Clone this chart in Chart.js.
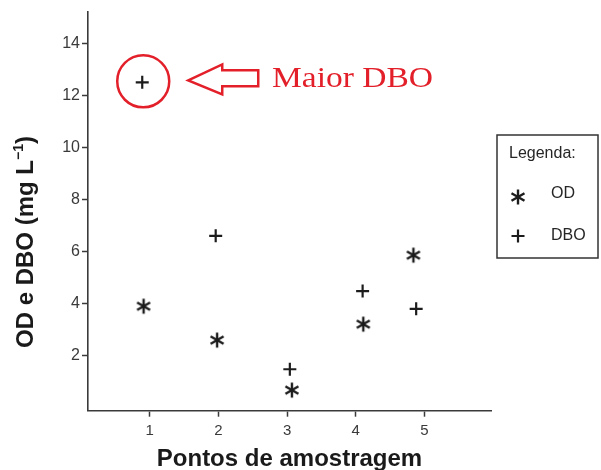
<!DOCTYPE html>
<html>
<head>
<meta charset="utf-8">
<script src="https://cdn.jsdelivr.net/npm/chart.js@4.4.1/dist/chart.umd.min.js"></script>
<style>
  html, body { margin: 0; padding: 0; background: #fff; }
</style>
</head>
<body>
<canvas id="odChart" width="601" height="470"></canvas>
<script>
// sampling points (x position) and values in mg/L
const odX = [0.91, 1.98, 3.07, 4.11, 4.84];
const odY = [3.91, 2.61, 0.69, 3.22, 5.87];
const dboX = [0.89, 1.96, 3.04, 4.10, 4.88];
const dboY = [12.5, 6.61, 1.49, 4.49, 3.81];
const xTicks = [1, 2, 3, 4, 5];
const yTicks = [2, 4, 6, 8, 10, 12, 14];
const seriesNames = ['OD', 'DBO'];

const ink = '#1c1c1c';
const red = '#e3202a';

// asterisk marker (6 arms) drawn once on a small canvas
const makeStar = () => {
  let c = document.createElement('canvas');
  c.width = 18; c.height = 18;
  let g = c.getContext('2d');
  g.strokeStyle = ink;
  g.lineWidth = 2.4;
  g.lineCap = 'butt';
  let r = 7.5;
  for (let i = 0; i < 3; i++) {
    let a = Math.PI / 2 + i * Math.PI / 3;
    g.beginPath();
    g.moveTo(9 + r * Math.cos(a), 9 + r * Math.sin(a));
    g.lineTo(9 - r * Math.cos(a), 9 - r * Math.sin(a));
    g.stroke();
  }
  return c;
};
const starImg = makeStar();

const drawPlus = (ctx, x, y, r) => {
  ctx.save();
  ctx.strokeStyle = ink;
  ctx.lineWidth = 2.2;
  ctx.beginPath();
  ctx.moveTo(x - r, y); ctx.lineTo(x + r, y);
  ctx.moveTo(x, y - r); ctx.lineTo(x, y + r);
  ctx.stroke();
  ctx.restore();
};

const extras = {
  id: 'extras',
  afterDraw(chart) {
    const ctx = chart.ctx;
    const xs = chart.scales.x, ys = chart.scales.y;
    ctx.save();

    // axis titles
    ctx.fillStyle = '#1a1a1a';
    ctx.font = 'bold 24px "Liberation Sans", Arial, sans-serif';
    ctx.textAlign = 'center';
    ctx.textBaseline = 'alphabetic';
    ctx.fillText('Pontos de amostragem', (chart.chartArea.left + chart.chartArea.right) / 2, 466);

    ctx.save();
    ctx.translate(33, 242);
    ctx.rotate(-Math.PI / 2);
    ctx.textAlign = 'left';
    let main = 'OD e DBO (mg L';
    let sup = '\u22121';
    let wMain = ctx.measureText(main).width;
    ctx.font = 'bold 14px "Liberation Sans", Arial, sans-serif';
    let wSup = ctx.measureText(sup).width;
    ctx.font = 'bold 24px "Liberation Sans", Arial, sans-serif';
    let wEnd = ctx.measureText(')').width;
    let total = wMain + wSup + wEnd;
    let x0 = -total / 2;
    ctx.fillText(main, x0, 0);
    ctx.font = 'bold 14px "Liberation Sans", Arial, sans-serif';
    ctx.fillText(sup, x0 + wMain, -10);
    ctx.font = 'bold 24px "Liberation Sans", Arial, sans-serif';
    ctx.fillText(')', x0 + wMain + wSup, 0);
    ctx.restore();

    // highlight of the highest DBO
    let px = xs.getPixelForValue(dboX[0]);
    let py = ys.getPixelForValue(dboY[0]);
    ctx.strokeStyle = red;
    ctx.lineWidth = 2.5;
    ctx.beginPath();
    ctx.arc(px + 1, py - 1, 26, 0, Math.PI * 2);
    ctx.stroke();

    // arrow pointing at it
    let tipX = px + 46, cy = py - 2;
    ctx.beginPath();
    ctx.moveTo(tipX, cy);
    ctx.lineTo(tipX + 34, cy - 16);
    ctx.lineTo(tipX + 34, cy - 10);
    ctx.lineTo(tipX + 70, cy - 10);
    ctx.lineTo(tipX + 70, cy + 6);
    ctx.lineTo(tipX + 34, cy + 6);
    ctx.lineTo(tipX + 34, cy + 14);
    ctx.closePath();
    ctx.lineJoin = 'miter';
    ctx.stroke();

    ctx.fillStyle = red;
    ctx.font = '29px "Liberation Serif", "Times New Roman", serif';
    ctx.textAlign = 'left';
    let label = 'Maior DBO';
    let w = ctx.measureText(label).width;
    ctx.save();
    ctx.translate(272, py + 5);
    ctx.scale(161 / w, 1);
    ctx.fillText(label, 0, 0);
    ctx.restore();

    // legend box
    ctx.strokeStyle = '#333';
    ctx.lineWidth = 1.5;
    ctx.strokeRect(497, 135, 101, 123);
    ctx.fillStyle = '#262626';
    ctx.font = '16px "Liberation Sans", Arial, sans-serif';
    ctx.textBaseline = 'middle';
    ctx.fillText('Legenda:', 509, 154);
    ctx.drawImage(starImg, 518 - 9, 197 - 9);
    ctx.fillText(seriesNames[0], 551, 194);
    drawPlus(ctx, 518, 236, 6.5);
    ctx.fillText(seriesNames[1], 551, 236);

    ctx.restore();
  }
};

var ctx = document.getElementById('odChart').getContext('2d');

var odChart = new Chart(ctx, {
  type: 'scatter',
  data: {
    datasets: [{
      label: seriesNames[0],
      data: odX.map((x, i) => ({ x: x, y: odY[i] })),
      pointStyle: starImg,
      pointRadius: 8,
      pointHoverRadius: 8
    }, {
      label: seriesNames[1],
      data: dboX.map((x, i) => ({ x: x, y: dboY[i] })),
      pointStyle: 'cross',
      pointRadius: 6.5,
      pointHoverRadius: 6.5,
      borderColor: ink,
      borderWidth: 2.2
    }]
  },
  options: {
    responsive: false,
    animation: false,
    layout: { padding: { top: 12, right: 110, left: 0, bottom: 0 } },
    plugins: {
      legend: { display: false },
      tooltip: { enabled: false }
    },
    scales: {
      x: {
        type: 'linear',
        min: 0.1,
        max: 5.97,
        afterBuildTicks: (scale) => { scale.ticks = xTicks.map(v => ({ value: v })); },
        afterFit: (scale) => { scale.height = 59.3; },
        grid: { drawOnChartArea: false, drawTicks: true, tickLength: 6, tickColor: '#3a3a3a', tickWidth: 1.5 },
        border: { display: true, color: '#3a3a3a', width: 1.6 },
        ticks: {
          color: '#3a3a3a',
          padding: 5,
          font: { family: '"Liberation Sans", Arial, sans-serif', size: 15 }
        }
      },
      y: {
        type: 'linear',
        min: -0.1,
        max: 15.2,
        afterBuildTicks: (scale) => { scale.ticks = yTicks.map(v => ({ value: v })); },
        afterFit: (scale) => { scale.width = 88; },
        grid: { drawOnChartArea: false, drawTicks: true, tickLength: 6, tickColor: '#3a3a3a', tickWidth: 1.5 },
        border: { display: true, color: '#3a3a3a', width: 1.6 },
        ticks: {
          color: '#3a3a3a',
          padding: 2,
          font: { family: '"Liberation Sans", Arial, sans-serif', size: 16 }
        }
      }
    }
  },
  plugins: [extras]
});
</script>
</body>
</html>
